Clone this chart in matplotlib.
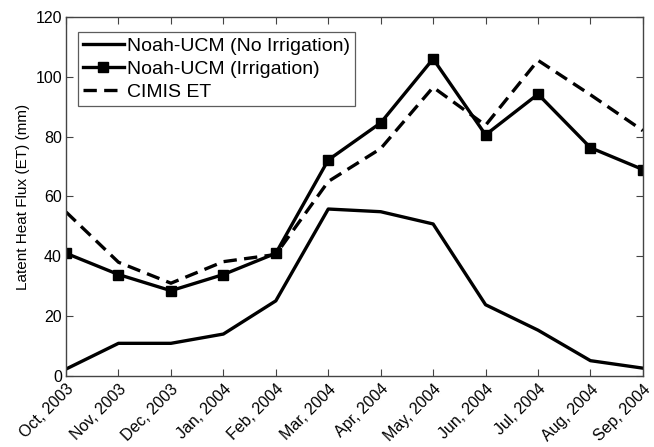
import matplotlib
matplotlib.use("Agg")
import matplotlib.pyplot as plt

months = ["Oct, 2003", "Nov, 2003", "Dec, 2003", "Jan, 2004", "Feb, 2004", "Mar, 2004",
          "Apr, 2004", "May, 2004", "Jun, 2004", "Jul, 2004", "Aug, 2004", "Sep, 2004"]
no_irrigation = [2.3, 10.9, 10.9, 14.0, 25.1, 55.8, 54.9, 50.8, 23.8, 15.3, 5.1, 2.6]
irrigation = [41.0, 33.9, 28.5, 33.9, 41.0, 72.2, 84.6, 106.0, 80.6, 94.2, 76.3, 69.0]
cimis = [54.8, 38.0, 31.0, 38.2, 40.6, 65.0, 76.0, 96.5, 83.8, 105.5, 94.0, 82.0]
yticks = [0, 20, 40, 60, 80, 100, 120]

plt.rcParams['font.family'] = ['Liberation Sans', 'DejaVu Sans']

fig = plt.figure(figsize=(6.54, 4.47), dpi=100)
ax = fig.add_axes([0.101, 0.159, 0.882, 0.803])
x = list(range(len(months)))

ax.plot(x, no_irrigation, color='black', lw=2.4, label='Noah-UCM (No Irrigation)')
ax.plot(x, irrigation, color='black', lw=2.4, marker='s', markersize=7, label='Noah-UCM (Irrigation)')
ax.plot(x, cimis, color='black', lw=2.4, ls=(0, (4, 2.2)), label='CIMIS ET')

ax.set_xlim(0, len(months) - 1)
ax.set_ylim(0, 120)
ax.set_yticks(yticks)
ax.set_xticks(x)
ax.set_xticklabels(months, rotation=45, ha='right', rotation_mode='anchor', fontsize=11.5)
ax.tick_params(axis='both', direction='in', top=True, right=True, length=5, width=0.8,
               color='#444444', labelsize=11.5, pad=3)
ax.tick_params(axis='x', pad=4)
for s in ax.spines.values():
    s.set_color('#444444')
    s.set_linewidth(1.0)
ax.set_ylabel('Latent Heat Flux (ET) (mm)', fontsize=11, labelpad=4)

leg = ax.legend(loc='upper left', bbox_to_anchor=(0.0205, 0.958), fontsize=14, frameon=True,
                fancybox=False, edgecolor='#333333', handlelength=2.1, handletextpad=0.2,
                borderpad=0.25, labelspacing=0.28, borderaxespad=0)
leg.get_frame().set_linewidth(0.9)

fig.savefig('out.png', dpi=100)
